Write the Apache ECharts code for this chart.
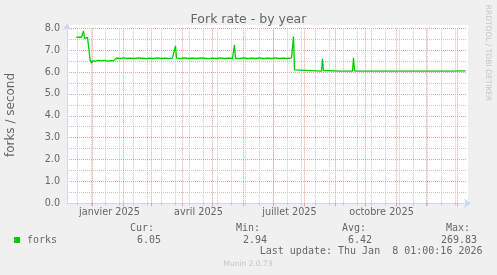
<!DOCTYPE html>
<html><head><meta charset="utf-8">
<script src="https://cdn.jsdelivr.net/npm/echarts@6/dist/echarts.min.js"></script>
<style>html,body{margin:0;padding:0;background:#f0f0f0;}#c{width:497px;height:275px;}</style>
</head><body><div id="c"></div>
<script>
// day index: 0 = 1 janvier 2025
const days = [-16,-11,-10,-9,-8,-7,-6,-5,-4,-3.6,-2.4,-1,0,3,6,9,12,15,18,21,22,23,24,28,31,35,38,42,46,50,54,57,61,65,69,72,76,80,82,83,84,88,92,96,100,104,108,112,116,120,124,128,132,136,140,141,142,143,147,151,155,159,163,167,171,175,179,183,187,191,195,199,200,201,202,203,229,230,231,232,248,249,250,253,254,255,260,261,262,263,264,265,271,272,273,277,278,279,283,284,285,326,327,328,356,357,358,373];
const forks = [7.59,7.59,7.60,7.88,7.54,7.60,7.63,7.59,7.59,7.58,6.55,6.40,6.52,6.50,6.53,6.51,6.53,6.50,6.52,6.51,6.52,6.58,6.64,6.62,6.65,6.62,6.64,6.62,6.65,6.63,6.61,6.64,6.62,6.65,6.62,6.64,6.62,6.64,6.63,7.19,6.64,6.62,6.65,6.62,6.64,6.62,6.65,6.63,6.61,6.64,6.62,6.65,6.62,6.64,6.63,6.64,7.24,6.63,6.62,6.65,6.62,6.64,6.62,6.65,6.62,6.64,6.62,6.65,6.62,6.64,6.62,6.65,6.64,7.62,6.10,6.04,6.04,6.60,6.07,6.04,6.04,6.09,6.04,6.04,6.09,6.04,6.04,6.65,6.06,6.04,6.09,6.04,6.04,6.08,6.04,6.04,6.08,6.04,6.04,6.08,6.04,6.04,6.08,6.04,6.04,6.08,6.04,6.05];
const monthStartDays = [0,31,59,90,120,151,181,212,243,273,304,334,365];
const minorGridDays = [-15,-1,13,27,41,55,69,83,97,111,125,139,153,167,181,195,209,223,237,251,265,279,293,307,321,335,349,363];
const labelDays = [17,106,197,289];
const labelNames = ['janvier 2025','avril 2025','juillet 2025','octobre 2025'];
const statNames = ['Cur:','Min:','Avg:','Max:'];
const statValues = ['6.05','2.94','6.42','269.83'];
const seriesName = 'forks';
const titleText = 'Fork rate - by year';
const yAxisName = 'forks / second';
const lastUpdate = 'Last update: Thu Jan  8 01:00:16 2026';
const footer = 'Munin 2.0.73';
const sideText = 'RRDTOOL / TOBI OETIKER';

const SANS = 'DejaVu Sans';
const MONO = 'DejaVu Sans Mono';
const FONTC = '#666666';
const MGRID = '#e8a0a0';
const GRID = '#c6c6c6';
const AXIS = '#CFD6F8';

const chart = echarts.init(document.getElementById('c'), null, {renderer:'canvas'});
const statNameX = [154,260,366,470];
const statValX = [161,267,372,477];
const graphics = [
  {type:'rect', z:-10, shape:{x:67,y:25,width:401,height:178.3}, style:{fill:'#ffffff'}},
  {type:'text', x:248.5, y:19.5, style:{text:titleText, font:'12.5px "'+SANS+'"', fill:FONTC, textAlign:'center', textVerticalAlign:'middle'}},
  {type:'text', x:10.5, y:115, rotation:Math.PI/2, style:{text:yAxisName, font:'12px "'+SANS+'"', fill:FONTC, textAlign:'center', textVerticalAlign:'middle'}},
  {type:'text', x:488, y:53, rotation:-Math.PI/2, style:{text:sideText, font:'7.5px "'+SANS+'"', fill:'#c4c4c4', textAlign:'center', textVerticalAlign:'middle'}},
  {type:'rect', shape:{x:14,y:237,width:6,height:6}, style:{fill:'#00cc00'}},
  {type:'text', x:27, y:240, style:{text:seriesName, font:'10px "'+MONO+'"', fill:FONTC, textAlign:'left', textVerticalAlign:'middle'}},
  {type:'text', x:482.5, y:251.5, style:{text:lastUpdate, font:'10px "'+MONO+'"', fill:FONTC, textAlign:'right', textVerticalAlign:'middle'}},
  {type:'text', x:248, y:264, style:{text:footer, font:'7.5px "'+SANS+'"', fill:'#c4c4c4', textAlign:'center', textVerticalAlign:'middle'}}
];
statNames.forEach((n,i)=>{
  graphics.push({type:'text', x:statNameX[i], y:228.3, style:{text:n, font:'10px "'+MONO+'"', fill:FONTC, textAlign:'right', textVerticalAlign:'middle'}});
  graphics.push({type:'text', x:statValX[i], y:240, style:{text:statValues[i], font:'10px "'+MONO+'"', fill:FONTC, textAlign:'right', textVerticalAlign:'middle'}});
});

const option = {
  backgroundColor:'#f0f0f0',
  animation:false,
  grid:{left:67, top:28.3, width:400, height:175, containLabel:false},
  xAxis:[{
    type:'value', min:-25.5, max:374.5,
    axisLine:{show:false, onZero:false},
    axisTick:{show:true, customValues:minorGridDays, length:2, lineStyle:{color:GRID}},
    axisLabel:{show:false},
    splitLine:{show:true, lineStyle:{color:GRID, type:'dotted', width:1}}
  },{
    type:'value', min:-25.5, max:374.5, position:'bottom',
    axisLine:{show:true, onZero:false, lineStyle:{color:AXIS, width:1}, symbol:['none','arrow'], symbolSize:[7,7], symbolOffset:[0,4]},
    axisTick:{show:true, customValues:monthStartDays, length:3, lineStyle:{color:MGRID}},
    axisLabel:{show:true, customValues:labelDays, margin:4, color:FONTC, fontFamily:SANS, fontSize:9.7,
      formatter:function(v){const i=labelDays.indexOf(v); return i>=0?labelNames[i]:'';}},
    splitLine:{show:true, lineStyle:{color:MGRID, type:'dotted', width:1}}
  }],
  yAxis:{
    type:'value', min:0, max:8, interval:1,
    axisLine:{show:true, onZero:false, lineStyle:{color:AXIS, width:1}, symbol:['none','arrow'], symbolSize:[7,7], symbolOffset:[0,5]},
    axisTick:{show:false},
    axisLabel:{margin:7, color:FONTC, fontFamily:SANS, fontSize:9.6, formatter:function(v){return v.toFixed(1);}},
    splitLine:{show:true, lineStyle:{color:MGRID, type:'dotted', width:1}},
    minorTick:{show:false, splitNumber:2},
    minorSplitLine:{show:true, lineStyle:{color:GRID, type:'dotted', width:1}}
  },
  graphic:graphics,
  series:[
    {type:'line', name:seriesName, xAxisIndex:1, z:5, showSymbol:false, symbol:'none',
      lineStyle:{color:'#00cc00', width:1.3}, itemStyle:{color:'#00cc00'},
      data:days.map((d,i)=>[d,forks[i]])}
  ]
};
chart.setOption(option);
</script></body></html>
